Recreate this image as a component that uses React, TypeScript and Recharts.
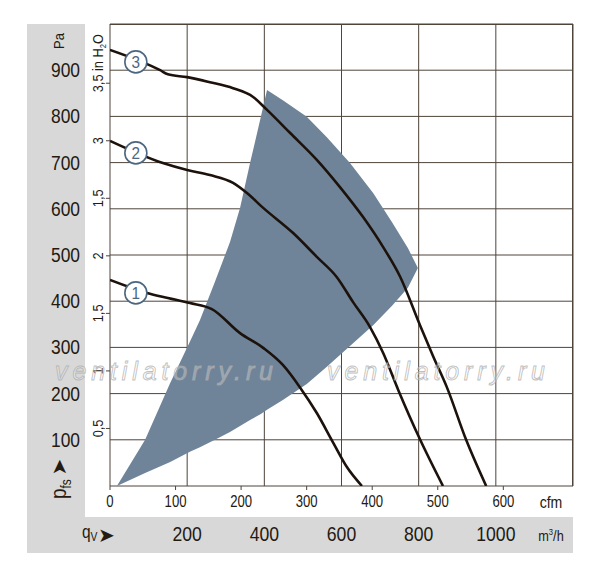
import React from "react";
import { Area, CartesianGrid, ComposedChart, Line, ReferenceDot, XAxis, YAxis } from "recharts";

const FONT = '"Liberation Sans", Arial, sans-serif';
const INK = "#231a12";
const GRID = "#4e443a";
const CURVE = "#1c120b";
const BLUE = "#4d6680";

// axes
const M3H_MAX = 1200;
const PA_MAX = 1000;
const m3hTicks = [0, 200, 400, 600, 800, 1000, 1200];
const cfmTicks = [0, 100, 200, 300, 400, 500, 600];
const paTicks = [0, 100, 200, 300, 400, 500, 600, 700, 800, 900, 1000];
const inH2OTicks = [0.5, 1, 1.5, 2, 2.5, 3, 3.5];
const inH2OLabels = ["0,5", "1", "1,5", "2", "1,5", "3", "3,5"];
const CFM_PER_M3H = 1 / 1.699;
const PA_PER_INH2O = 249.089;

// fan curves (q in m³/h, p in Pa)
const curve1Flow = [0, 96, 150, 207, 264, 337, 397, 448, 492, 536, 579, 614, 653];
const curve1Pressure = [446, 418, 407, 396, 383, 331, 299, 262, 214, 158, 93, 41, 0];
const curve2Flow = [0, 137, 200, 259, 319, 355, 397, 474, 536, 588, 630, 674, 708, 747, 804, 863];
const curve2Pressure = [747, 699, 684, 673, 656, 634, 602, 548, 496, 452, 398, 344, 288, 208, 100, 0];
const curve3Flow = [0, 130, 150, 200, 259, 319, 371, 407, 467, 536, 596, 656, 708, 752, 804, 838, 873, 923, 975];
const curve3Pressure = [944, 900, 891, 885, 874, 861, 842, 814, 764, 706, 647, 582, 517, 453, 347, 280, 214, 100, 0];

// recommended operating range
const rangeFlow = [18, 91, 156, 207, 233, 272, 311, 337, 363, 391, 407, 448, 510, 562, 622, 682, 731, 772, 798];
const rangeLow = [0, 28, 52, 74, 84, 100, 117, 130, 143, 156, 165, 186, 221, 258, 303, 348, 390, 429, 472];
const rangeHigh = [0, 100, 223, 312, 359, 442, 528, 602, 699, 799, 857, 835, 799, 755, 699, 634, 571, 515, 472];

const markerNames = ["1", "2", "3"];
const markerFlow = [67, 67, 67];
const markerPressure = [418, 721, 918];

const toData = (flow: number[], pressure: number[]) => flow.map((q, i) => ({ q, p: pressure[i] }));
const curves = [toData(curve1Flow, curve1Pressure), toData(curve2Flow, curve2Pressure), toData(curve3Flow, curve3Pressure)];
const rangeData = rangeFlow.map((q, i) => ({ q, range: [rangeLow[i], rangeHigh[i]] }));
// same curve expressed in cfm, only so the cfm scale has a series bound to it
const curve3Cfm = curve3Flow.map((q, i) => ({ cfm: q * CFM_PER_M3H, p: curve3Pressure[i] }));

// grid on every tick, the frame included
const gridRows = ({ offset }: any) =>
  offset ? paTicks.map((v) => offset.top + offset.height * (1 - v / PA_MAX)) : undefined;
const gridCols = ({ offset }: any) =>
  offset ? m3hTicks.map((v) => offset.left + (offset.width * v) / M3H_MAX) : undefined;

// condensed look: the narrow font is not installed, so squeeze the regular one
const Narrow = ({ x, y, size, anchor = "middle", rotate = false, squeeze = 0.86, baseline, fill = INK, children }: any) => (
  <text
    transform={`translate(${x},${y})${rotate ? " rotate(-90)" : ""} scale(${squeeze},1)`}
    textAnchor={anchor}
    dominantBaseline={baseline}
    fontFamily={FONT}
    fontSize={size}
    fill={fill}
  >
    {children}
  </text>
);

const PaTick = ({ x, y, payload }: any) => {
  const v = payload.value;
  if (v === 0 || v === PA_MAX) return <g />;
  return <Narrow x={x} y={y + 7} size={20} anchor="end" squeeze={0.87}>{v}</Narrow>;
};

const InH2OTick = ({ x, y, payload }: any) => {
  const i = inH2OTicks.indexOf(payload.value);
  const cx = x - 1;
  if (i === inH2OTicks.length - 1) {
    return (
      <Narrow x={cx} y={y + 9} size={15} anchor="start" rotate squeeze={0.85}>
        {inH2OLabels[i]} in H<tspan fontSize={9} dy={3}>2</tspan><tspan dy={-3}>O</tspan>
      </Narrow>
    );
  }
  return <Narrow x={cx} y={y} size={15} anchor="middle" rotate squeeze={0.85}>{inH2OLabels[i]}</Narrow>;
};

const CfmTick = ({ x, y, payload }: any) => (
  <Narrow x={x} y={y + 15} size={16} squeeze={0.82}>{payload.value}</Narrow>
);

const M3hTick = ({ x, y, payload }: any) => {
  const v = payload.value;
  if (v === 0 || v === M3H_MAX) return <g />;
  return <Narrow x={x} y={y + 22} size={21} squeeze={0.84}>{v}</Narrow>;
};

const Marker = (name: string) => (props: any) => (
  <g>
    <circle cx={props.cx} cy={props.cy} r={11} fill="#fff" stroke={BLUE} strokeWidth={1.6} />
    <Narrow x={props.cx} y={props.cy + 6} size={17} fill={BLUE} squeeze={0.9}>{name}</Narrow>
  </g>
);

const Overlay = () => (
  <svg width={600} height={581} style={{ position: "absolute", left: 0, top: 0, pointerEvents: "none" }}>
    <Narrow x={64} y={41} size={15} rotate>Pa</Narrow>
    <text x={59} y={467} transform="rotate(-90, 59, 467)" textAnchor="middle" dominantBaseline="central" fontSize={20} fontFamily="DejaVu Sans" fill={INK}>
      ➤
    </text>
    <Narrow x={66} y={499} size={22} anchor="start" rotate>
      p<tspan fontSize={14} dy={5}>fs</tspan>
    </Narrow>
    <Narrow x={82} y={538} size={18} anchor="start">
      q<tspan fontSize={12} dy={3}>V</tspan>
    </Narrow>
    <text x={98} y={542} fontSize={20} fontFamily="DejaVu Sans" fill={INK}>
      ➤
    </text>
    <Narrow x={551} y={508} size={16} squeeze={0.88}>cfm</Narrow>
    <Narrow x={551} y={541} size={15} squeeze={0.85}>
      m<tspan fontSize={9} dy={-6}>3</tspan><tspan dy={6}>/h</tspan>
    </Narrow>
    <g fontFamily={FONT} fontStyle="italic" fontSize={25} fill="rgba(255,255,255,0.3)" stroke="rgba(170,170,170,0.75)" strokeWidth={0.9}>
      <text x={55} y={380} textLength={218} lengthAdjust="spacing">ventilatorry.ru</text>
      <text x={327} y={380} textLength={218} lengthAdjust="spacing">ventilatorry.ru</text>
    </g>
  </svg>
);

export default function App() {
  return (
    <div style={{ position: "absolute", left: 0, top: 0, width: 600, height: 581, background: "#fff" }}>
      <div style={{ position: "absolute", left: 27, top: 24, width: 58, height: 529, background: "#d8d8d8" }} />
      <div style={{ position: "absolute", left: 27, top: 517, width: 546, height: 36, background: "#d8d8d8" }} />
      {/* plot frame */}
      <div style={{ position: "absolute", left: 110, top: 24, width: 463, height: 462, boxSizing: "border-box", borderTop: `1px solid ${GRID}`, borderRight: `1px solid ${GRID}` }} />
      <div style={{ position: "absolute", left: 0, top: 0 }}>
        <ComposedChart width={600} height={581} margin={{ top: 24, right: 27, bottom: 28, left: 27 }}>
          <XAxis xAxisId="cfm" type="number" dataKey="cfm" domain={[0, M3H_MAX * CFM_PER_M3H]} ticks={cfmTicks} height={31} axisLine={false} tickLine={{ stroke: GRID }} tickSize={4} tick={<CfmTick />} interval={0} allowDataOverflow />
          <XAxis xAxisId="m3h" type="number" dataKey="q" domain={[0, M3H_MAX]} ticks={m3hTicks} height={36} axisLine={false} tickLine={false} tickSize={0} tick={<M3hTick />} interval={0} allowDataOverflow />
          <YAxis yAxisId="inh2o" type="number" domain={[0, PA_MAX / PA_PER_INH2O]} ticks={inH2OTicks} width={25} axisLine={false} tickLine={{ stroke: GRID }} tickSize={4} tick={<InH2OTick />} interval={0} allowDataOverflow />
          <YAxis yAxisId="pa" type="number" domain={[0, PA_MAX]} ticks={paTicks} width={58} axisLine={false} tickLine={false} tickSize={0} tickMargin={5} tick={<PaTick />} interval={0} allowDataOverflow />
          <Area xAxisId="m3h" yAxisId="pa" data={rangeData} dataKey="range" type="linear" fill="#6f8499" fillOpacity={1} stroke="none" isAnimationActive={false} />
          <CartesianGrid xAxisId="m3h" yAxisId="pa" stroke={GRID} strokeWidth={1} horizontalCoordinatesGenerator={gridRows} verticalCoordinatesGenerator={gridCols} />
          <Line xAxisId="cfm" yAxisId="pa" data={curve3Cfm} dataKey="p" stroke="none" strokeWidth={0} dot={false} activeDot={false} legendType="none" isAnimationActive={false} />
          {curves.map((d, i) => (
            <Line key={i} xAxisId="m3h" yAxisId="pa" data={d} dataKey="p" type="monotone" stroke={CURVE} strokeWidth={2.6} dot={false} activeDot={false} isAnimationActive={false} />
          ))}
          {markerNames.map((name, i) => (
            <ReferenceDot key={name} xAxisId="m3h" yAxisId="pa" x={markerFlow[i]} y={markerPressure[i]} r={11} shape={Marker(name)} />
          ))}
        </ComposedChart>
      </div>
      <Overlay />
    </div>
  );
}
